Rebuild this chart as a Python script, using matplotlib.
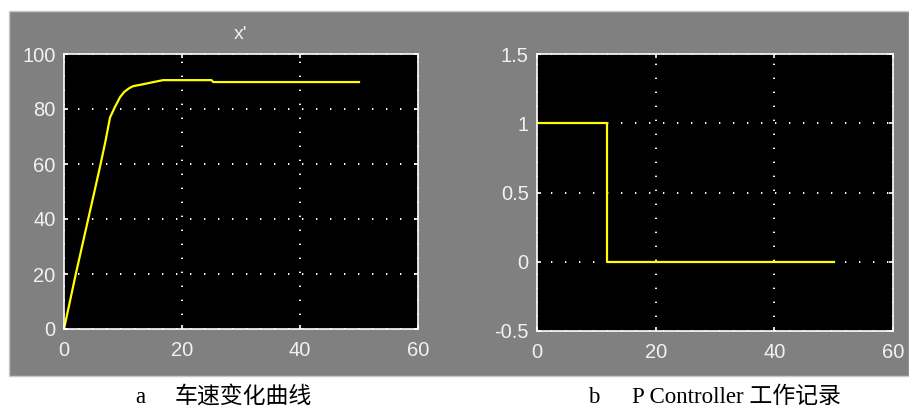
import numpy as np
import matplotlib.pyplot as plt
from matplotlib.patches import Rectangle
from matplotlib.ticker import FormatStrFormatter

# 车速 x'
t_speed = [0, 2, 4, 6, 7, 7.8, 8.6, 9.5, 10.2, 11, 11.7, 13.4, 15.4, 16.8, 25, 25.3, 50]
v_speed = [0, 20, 39, 58, 68, 76.9, 80.6, 84.3, 86.2, 87.5, 88.3, 89, 89.9, 90.5, 90.5, 89.8, 89.8]

# P Controller
t_ctrl = [0, 11.8, 50]
u_ctrl = [1, 0, 0]

xticks = [0, 20, 40, 60]
yticks_a = [0, 20, 40, 60, 80, 100]
yticks_b = [-0.5, 0, 0.5, 1, 1.5]

plt.rcParams['font.family'] = ['Liberation Sans', 'DejaVu Sans']

fig = plt.figure(figsize=(9.09, 4.12), dpi=100)
fig.patch.set_facecolor('white')
bg = Rectangle((9 / 909, 1 - 376 / 412), 900 / 909, 365 / 412,
               transform=fig.transFigure, facecolor='#808080',
               edgecolor='#c8c8c8', linewidth=1, zorder=-5)
fig.add_artist(bg)

ax1 = fig.add_axes([64 / 909, 1 - 329 / 412, 354 / 909, 275 / 412])
ax2 = fig.add_axes([537 / 909, 1 - 331 / 412, 356 / 909, 277 / 412])

def style(ax, yticks):
    ax.set_facecolor('black')
    for s in ax.spines.values():
        s.set_color('white')
        s.set_linewidth(1.2)
    ax.set_xlim(0, 60)
    ax.set_ylim(yticks[0], yticks[-1])
    ax.set_xticks(xticks)
    ax.set_yticks(yticks)
    ax.xaxis.set_major_formatter(FormatStrFormatter('%g'))
    ax.yaxis.set_major_formatter(FormatStrFormatter('%g'))
    ax.tick_params(direction='in', length=3, width=1.2, color='white',
                   labelcolor='#f2f2f2', labelsize=14.5, top=True, right=True)
    ax.tick_params(axis='y', pad=6)
    ax.tick_params(axis='x', pad=9)
    ax.grid(True, color='white', linestyle=(0, (0.7, 6.5)), linewidth=1.4)

style(ax1, yticks_a)
ax1.plot(t_speed, v_speed, color='#ffff00', lw=1.6)
ax1.set_title("x'", color='#f2f2f2', fontsize=14, pad=11)

style(ax2, yticks_b)
ax2.plot(t_ctrl, u_ctrl, color='#ffff00', lw=1.6, drawstyle='steps-post')

cap = ['Liberation Serif', 'Noto Sans CJK SC']
cy = 0.036
fig.text(135 / 909, cy, 'a', family=cap, fontsize=16.5, va='center', ha='left')
fig.text(175 / 909, cy, '车速变化曲线', family=cap, fontsize=16.5, va='center', ha='left')
fig.text(588 / 909, cy, 'b', family=cap, fontsize=16.5, va='center', ha='left')
fig.text(632 / 909, cy, 'P Controller 工作记录', family=cap, fontsize=16.5, va='center', ha='left')

fig.savefig('out.png', dpi=100)
